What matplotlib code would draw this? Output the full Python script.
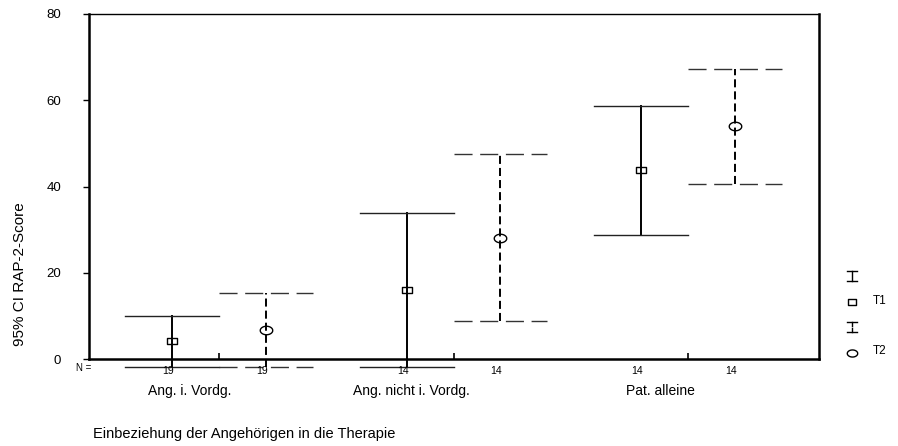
import matplotlib
matplotlib.use("Agg")
import numpy as np
import matplotlib.pyplot as plt
from matplotlib.path import Path
from matplotlib.transforms import blended_transform_factory

plt.rcParams["font.family"] = ["Liberation Sans", "DejaVu Sans"]
plt.rcParams["lines.scale_dashes"] = False

# Data: mean and 95% CI of RAP-2 score per group and time point
groups = ["Ang. i. Vordg.", "Ang. nicht i. Vordg.", "Pat. alleine"]
series = ["T1", "T2"]
n_t1 = [19, 14, 14]
n_t2 = [19, 14, 14]
mean_t1 = [4.2, 16.0, 43.8]
lo_t1 = [-1.8, -1.9, 28.8]
hi_t1 = [10.0, 33.9, 58.7]
mean_t2 = [6.7, 28.1, 54.0]
lo_t2 = [-1.9, 8.8, 40.6]
hi_t2 = [15.4, 47.5, 67.3]
y_ticks = [0, 20, 40, 60, 80]

W, H = 898, 446
AX_L, AX_R, AX_T, AX_B = 89, 819, 14, 359
fig = plt.figure(figsize=(W / 100, H / 100), dpi=100)
ax = fig.add_axes([AX_L / W, (H - AX_B) / H, (AX_R - AX_L) / W, (AX_B - AX_T) / H])
axw = AX_R - AX_L
axh = AX_B - AX_T

# flattened marker shapes
rect_marker = Path([(-1, -0.62), (1, -0.62), (1, 0.62), (-1, 0.62), (-1, -0.62)],
                   [Path.MOVETO, Path.LINETO, Path.LINETO, Path.LINETO, Path.CLOSEPOLY])
t = np.linspace(0, 2 * np.pi, 49)
ellipse_marker = Path(np.column_stack([np.cos(t), 0.68 * np.sin(t)]))

offset = 0.2
cap_half = 0.2
vdash = (0, (5.8, 2.9))
cdash = (0, (13, 5.5))

for i in range(len(groups)):
    g = i + 1
    # T1: solid interval, rectangle marker
    x1 = g - offset
    ax.plot([x1, x1], [lo_t1[i], hi_t1[i]], color="black", lw=1.4, clip_on=False)
    for yv in (lo_t1[i], hi_t1[i]):
        ax.plot([x1 - cap_half, x1 + cap_half], [yv, yv], color="#222222",
                lw=1.0, clip_on=False)
    ax.plot([x1], [mean_t1[i]], marker=rect_marker, ms=7.5, mfc="none",
            mec="black", mew=1.0, linestyle="none", clip_on=False)
    # T2: dashed interval, ellipse marker
    x2 = g + offset
    ax.plot([x2, x2], [lo_t2[i], hi_t2[i]], color="black", lw=1.4,
            linestyle=vdash, clip_on=False)
    for yv in (lo_t2[i], hi_t2[i]):
        ax.plot([x2 - cap_half, x2 + cap_half], [yv, yv], color="#333333",
                lw=1.0, linestyle=cdash, clip_on=False)
    ax.plot([x2], [mean_t2[i]], marker=ellipse_marker, ms=9, mfc="none",
            mec="black", mew=1.0, linestyle="none", clip_on=False)

ax.set_xlim(1 - (219 - AX_L) / 234.5, 1 + (AX_R - 219) / 234.5)
ax.set_ylim(0, 80)

for side in ("left", "bottom", "right"):
    ax.spines[side].set_linewidth(1.8)
ax.spines["top"].set_linewidth(1.0)

ax.set_yticks(y_ticks)
ax.set_yticklabels([str(v) for v in y_ticks], fontsize=9.5)
ax.tick_params(axis="y", direction="out", length=4, width=1, pad=16)
ax.set_xticks([1, 2, 3])
ax.set_xticklabels([])
ax.tick_params(axis="x", direction="in", length=4, width=1.2)

ax.set_ylabel("95% CI RAP-2-Score", fontsize=11)
ax.yaxis.label.set_verticalalignment("center")
ax.yaxis.set_label_coords((20 - AX_L) / axw, (AX_B - 274) / axh)

# sample sizes under each interval
tr = blended_transform_factory(ax.transData, ax.transAxes)
n_y = (AX_B - 371) / axh
n_shift = 4 / 234.5
for i in range(len(groups)):
    g = i + 1
    ax.text(g - offset - n_shift, n_y, str(n_t1[i]), transform=tr, fontsize=7.5,
            ha="center", va="center")
    ax.text(g + offset - n_shift, n_y, str(n_t2[i]), transform=tr, fontsize=7.5,
            ha="center", va="center")
ax.text((84 - AX_L) / axw, (AX_B - 368) / axh, "N =", transform=ax.transAxes,
        fontsize=7, ha="center", va="center")

# group labels
label_px = [190, 411, 660]
for name, px in zip(groups, label_px):
    fig.text(px / W, 1 - 391 / H, name, fontsize=10, ha="center", va="center")

fig.text(93 / W, 1 - 434 / H, "Einbeziehung der Angehörigen in die Therapie",
         fontsize=10.5, ha="left", va="center")

# legend symbols
lax = fig.add_axes([835 / W, (H - 365) / H, 60 / W, 110 / H])
lax.set_xlim(835, 895)
lax.set_ylim(365, 255)
lax.axis("off")
sx = 852
lax.plot([sx, sx], [271, 281], color="black", lw=1.0)
lax.plot([sx - 5, sx + 5], [271, 271], color="black", lw=1.0)
lax.plot([sx - 5, sx + 5], [281, 281], color="black", lw=1.0)
lax.plot([sx], [302], marker=rect_marker, ms=6, mfc="none", mec="black", mew=1.0)
lax.text(873, 301, series[0], fontsize=8.5, ha="left", va="center")
lax.plot([sx, sx], [322, 326], color="black", lw=1.0)
lax.plot([sx, sx], [328, 332], color="black", lw=1.0)
lax.plot([sx - 5, sx + 5], [322, 322], color="black", lw=1.0)
lax.plot([sx - 5, sx + 5], [332, 332], color="black", lw=1.0)
lax.plot([sx], [353], marker=ellipse_marker, ms=7.5, mfc="none", mec="black", mew=1.0)
lax.text(873, 351, series[1], fontsize=8.5, ha="left", va="center")

fig.savefig("out.png", dpi=100)
